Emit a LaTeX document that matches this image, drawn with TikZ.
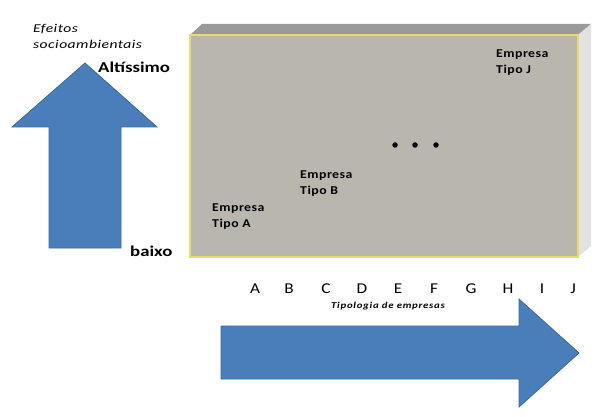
\documentclass[tikz,border=0pt]{standalone}
\usepackage{fontspec}
\setmainfont{Carlito}
\definecolor{arrowblue}{HTML}{4A7EBB}
\definecolor{arrowedge}{HTML}{3A68A0}
\definecolor{boxfront}{HTML}{B9B6AE}
\definecolor{boxtop}{HTML}{9A9A9A}
\definecolor{boxside}{HTML}{E2E2E2}
\definecolor{boxedge}{HTML}{E6DC6A}
\tikzset{
  bigarrow/.style={fill=arrowblue, draw=arrowedge, line width=0.8pt, line join=miter},
  lbl/.style={inner sep=0pt, anchor=base west, text=black},
  empresa/.style={inner sep=0pt, anchor=base west, align=left, font=\fontsize{12}{16}\selectfont\bfseries\addfontfeatures{LetterSpace=4,FakeStretch=1.15}},
  letter/.style={inner sep=0pt, anchor=base, font=\fontsize{15}{15}\selectfont\addfontfeatures{FakeStretch=1.15}},
  dot/.style={circle, fill=black, inner sep=0pt, minimum size=5.5pt}
}
\begin{document}
\begin{tikzpicture}[x=1pt,y=-1pt]
\useasboundingbox (0,0) rectangle (603,417);
% box
\fill[boxtop] (190,35) -- (202,24) -- (591,24) -- (578,35) -- cycle;
\fill[boxside] (578,35) -- (591,24) -- (591,246) -- (578,257) -- cycle;
\fill[boxfront] (190,35) rectangle (578,257);
\draw[boxedge, line width=1.2pt] (190,35) rectangle (578,257);
% up arrow
\draw[bigarrow] (85,63) -- (157,127) -- (121,127) -- (121,248) -- (49,248) -- (49,127) -- (12,127) -- cycle;
% right arrow
\draw[bigarrow] (221,326) -- (519,326) -- (519,299) -- (579,353) -- (519,407) -- (519,379) -- (221,379) -- cycle;
% texts (base anchor = baseline of the last line)
\node[lbl, align=left, font=\fontsize{12}{16}\selectfont\itshape\addfontfeatures{LetterSpace=4,FakeStretch=1.3}] (efeitos) at (33,49) {Efeitos\\socioambientais};
\node[lbl, font=\fontsize{15}{15}\selectfont\bfseries\addfontfeatures{FakeStretch=1.25}] (alt) at (98,73) {Altíssimo};
\node[lbl, font=\fontsize{15}{15}\selectfont\bfseries\addfontfeatures{FakeStretch=1.25}] (baixo) at (130,257) {baixo};
\node[empresa] (ea) at (212,227) {Empresa\\Tipo A};
\node[empresa] (eb) at (300,195) {Empresa\\Tipo B};
\node[empresa] (ej) at (496,74) {Empresa\\Tipo J};
\node[dot] (d1) at (395,145) {};
\node[dot] (d2) at (415,145) {};
\node[dot] (d3) at (436,145) {};
\foreach \l/\x in {A/255,B/289,C/326,D/362,E/398,F/434,G/471,H/508,I/542,J/573}
  \node[letter] (l\l) at (\x,293) {\l};
\node[inner sep=0pt, anchor=base, font=\fontsize{9}{9}\selectfont\bfseries\itshape\addfontfeatures{LetterSpace=8,FakeStretch=1.2}] (tipo) at (388,308) {Tipologia de empresas};
\end{tikzpicture}
\end{document}
